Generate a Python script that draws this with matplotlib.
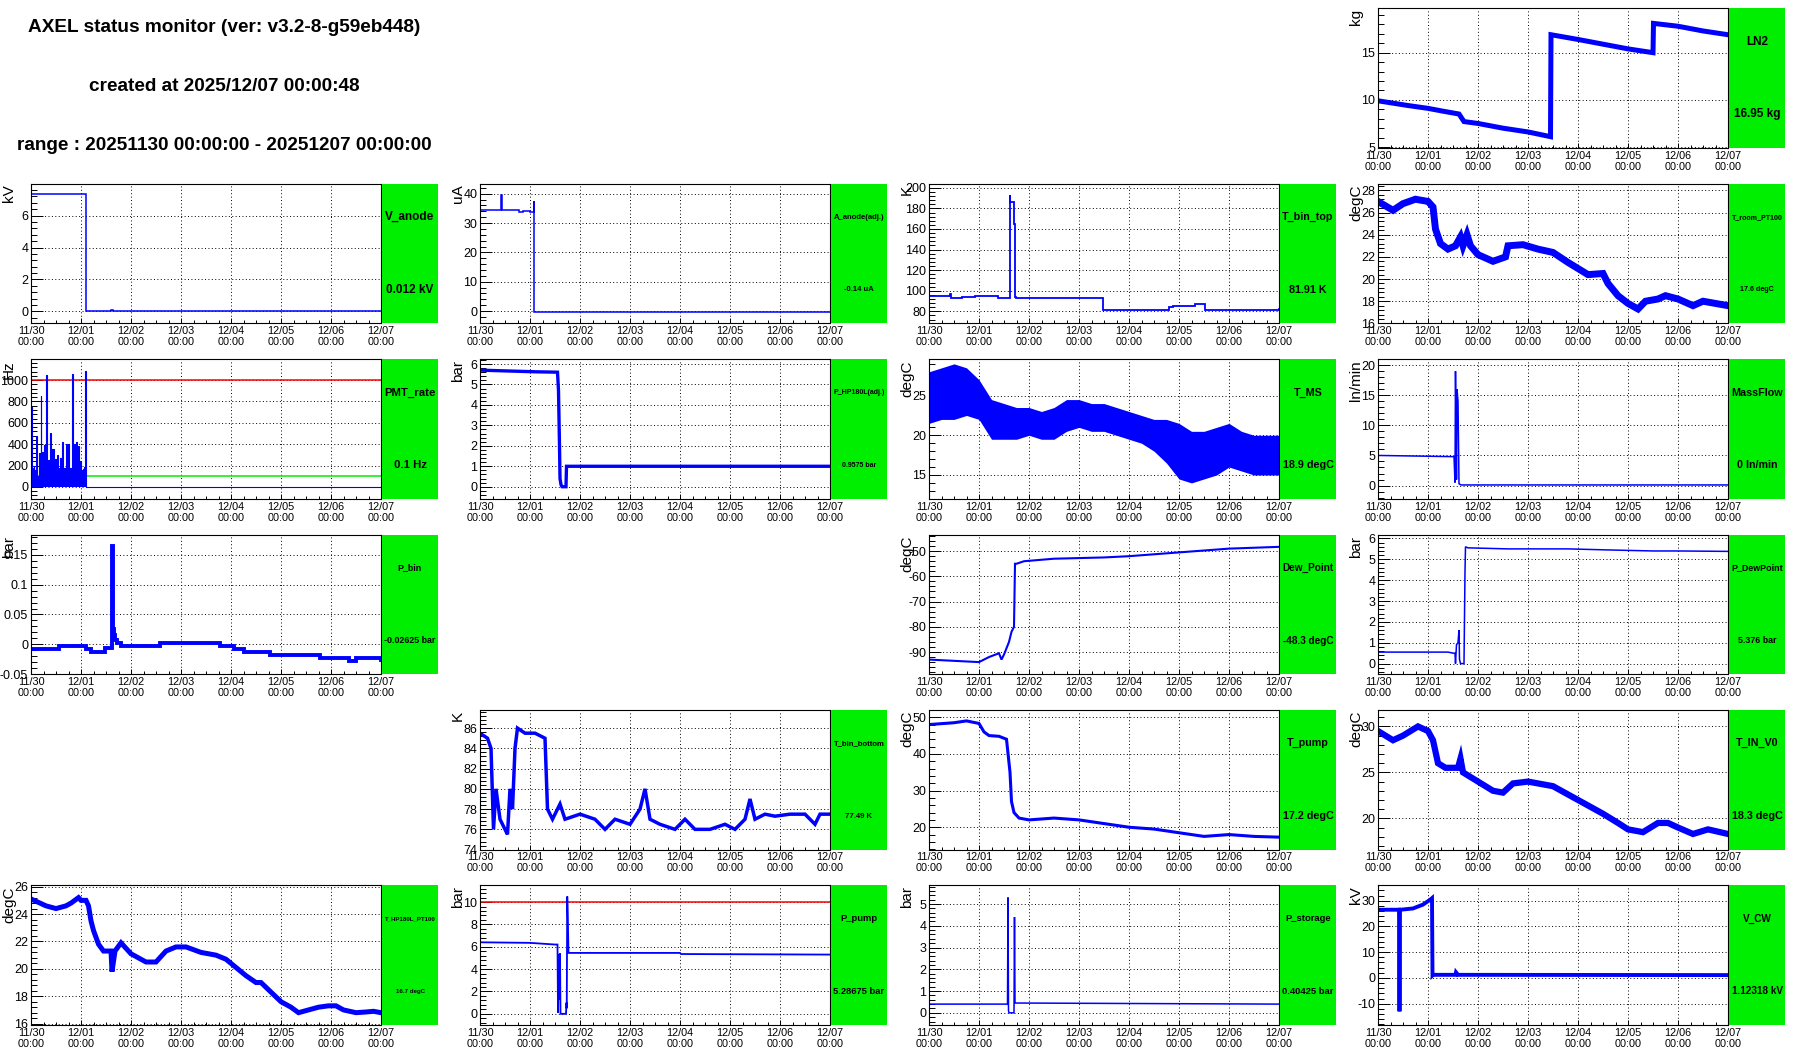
import numpy as np
import matplotlib
matplotlib.use("Agg")
import matplotlib.pyplot as plt
from matplotlib.ticker import MultipleLocator, AutoMinorLocator

plt.rcParams['font.family'] = ['Liberation Sans', 'DejaVu Sans']

W, H, DPI = 1796, 1052, 100

# time axis: days since 2025/11/30 00:00
day_ticks = [0, 1, 2, 3, 4, 5, 6, 7]
day_labels = ['11/30\n00:00', '12/01\n00:00', '12/02\n00:00', '12/03\n00:00',
              '12/04\n00:00', '12/05\n00:00', '12/06\n00:00', '12/07\n00:00']

title_lines = ['AXEL status monitor (ver: v3.2-8-g59eb448)',
               'created at 2025/12/07 00:00:48',
               'range : 20251130 00:00:00 - 20251207 00:00:00']

ln2_t = [0, 0.6, 1.0, 1.3, 1.62, 1.72, 2.0, 2.5, 3.0, 3.45, 3.46, 4.0, 4.5, 5.0, 5.5, 5.51, 6.0, 6.5, 7.0]
ln2_v = [9.9, 9.4, 9.1, 8.8, 8.5, 7.7, 7.5, 7.0, 6.6, 6.1, 16.9, 16.4, 15.9, 15.4, 15.0, 18.1, 17.8, 17.3, 16.9]

vanode_t = [0, 1.09, 1.60, 1.63, 7.0]
vanode_v = [7.35, 0.01, 0.07, 0.01, 0.01]

aanode_t = [0, 0.42, 0.43, 0.78, 0.86, 1.00, 1.07, 1.08, 7.0]
aanode_v = [34.3, 39.5, 34.3, 33.8, 34.0, 33.7, 37.5, -0.2, -0.2]

tbt_t = [0, 0.41, 0.43, 0.65, 0.91, 1.38, 1.61, 1.625, 1.69, 1.71, 1.73, 3.47, 4.80, 4.88, 5.31, 5.51, 7.0]
tbt_v = [95, 97, 92.5, 94, 95, 93, 193, 186, 165, 93.5, 93, 81, 84, 85.5, 87, 81, 81.9]

troom_t = [0, 0.3, 0.5, 0.75, 1.0, 1.1, 1.15, 1.25, 1.4, 1.55, 1.65, 1.7, 1.78, 1.85, 2.0, 2.3,
           2.55, 2.6, 2.9, 3.2, 3.5, 3.8, 4.2, 4.5, 4.6, 4.8, 5.0, 5.2, 5.35, 5.6, 5.75, 6.0, 6.3, 6.5, 7.0]
troom_v = [27.0, 26.2, 26.8, 27.2, 27.0, 26.5, 24.5, 23.2, 22.7, 23.0, 23.8, 23.0, 24.0, 23.0, 22.2, 21.6,
           22.0, 23.0, 23.1, 22.7, 22.4, 21.5, 20.4, 20.5, 19.6, 18.5, 17.8, 17.3, 18.0, 18.2, 18.5, 18.2, 17.6, 18.0, 17.6]

pmt_h = [0.0, 0.4, 0.8, 1.2, 1.6, 2.0, 2.6, 3.0, 3.6, 4.1, 4.6, 5.0, 5.5, 5.9, 6.3, 6.8, 7.3, 7.7,
         8.2, 8.7, 9.3, 9.8, 10.3, 10.8, 11.4, 11.9, 12.4, 12.9, 13.5, 13.9, 14.4, 15.0, 15.5, 16.0,
         16.6, 17.1, 17.6, 18.1, 18.6, 19.2, 19.7, 20.2, 20.7, 21.2, 21.8, 22.2, 22.7, 23.2, 23.7,
         24.2, 24.8, 25.3, 26.0, 26.3, 168.0]
pmt_v = [750, 180, 150, 200, 120, 150, 480, 100, 320, 200, 850, 180, 330, 220, 390, 240, 1050, 220,
         250, 200, 500, 190, 350, 220, 260, 180, 300, 170, 180, 270, 160, 420, 180, 180,
         400, 150, 400, 150, 180, 110, 1060, 200, 400, 120, 420, 160, 380, 220, 240,
         160, 170, 190, 1090, 0.1, 0.1]

php_t = [0, 1.1, 1.55, 1.57, 1.59, 1.6, 1.62, 1.64, 1.72, 1.73, 7.0]
php_v = [5.7, 5.62, 5.6, 4.7, 2.0, 0.4, 0.1, 0.0, 0.0, 1.0, 1.0]

tms_t = [0, 0.25, 0.5, 0.75, 1.0, 1.1, 1.25, 1.5, 1.75, 2.0, 2.25, 2.5, 2.75, 3.0, 3.25, 3.5,
         3.75, 4.0, 4.25, 4.5, 4.75, 5.0, 5.25, 5.5, 5.75, 6.0, 6.25, 6.5, 6.75, 7.0]
tms_lo = [21.5, 22, 22, 22.5, 22, 21, 19.5, 19.5, 19.5, 20, 19.5, 19.5, 20.5, 21, 20.5, 20.5,
          20, 19.5, 19, 18, 16.5, 14.5, 14, 14.5, 15, 16, 15.5, 15, 15, 15]
tms_hi = [28, 28.5, 29, 28.5, 27, 26, 24.5, 24, 23.5, 23.5, 23, 23.5, 24.5, 24.5, 24, 24,
          23.5, 23, 22.5, 22, 22, 21.5, 20.5, 20.5, 21, 21.5, 20.5, 20, 20, 20]

mf_t = [0, 1.52, 1.54, 1.55, 1.57, 1.58, 1.6, 1.62, 1.64, 1.66, 7.0]
mf_v = [5, 4.8, 0.5, 19, 1, 16, 14, 0.3, 0.2, 0.1, 0.1]

pbin_t = [0, 0.55, 1.1, 1.2, 1.48, 1.62, 1.63, 1.645, 1.66, 1.68, 1.72, 1.8, 2.57, 3.78, 4.05,
          4.25, 4.78, 5.78, 6.35, 6.5, 7.0]
pbin_v = [-0.007, -0.002, -0.007, -0.012, -0.006, 0.165, 0.08, 0.025, 0.015, 0.008, 0.003, -0.002,
          0.003, -0.002, -0.008, -0.012, -0.018, -0.023, -0.028, -0.023, -0.026]

dew_t = [0, 0.5, 1.0, 1.2, 1.4, 1.45, 1.5, 1.6, 1.65, 1.7, 1.72, 1.75, 1.9, 2.5, 3.5, 4.0, 5.0, 6.0, 7.0]
dew_v = [-93, -93.5, -94, -92, -90.5, -93, -91, -86, -82, -80, -55, -55, -54, -53, -52.5, -52, -50.5, -49, -48.3]

pdp_t = [0, 1.4, 1.5, 1.54, 1.55, 1.57, 1.6, 1.62, 1.63, 1.65, 1.72, 1.74, 1.75, 1.8, 2.6, 3.8,
         4.6, 5.5, 6.0, 7.0]
pdp_v = [0.55, 0.55, 0.5, 0.5, 0.0, 0.9, 1.0, 1.6, 0.2, 0.0, 0.0, 4.4, 5.6, 5.55, 5.5, 5.5,
         5.45, 5.4, 5.4, 5.38]

tbb_t = [0, 0.15, 0.22, 0.27, 0.32, 0.4, 0.5, 0.55, 0.6, 0.65, 0.7, 0.75, 0.9, 1.1, 1.3, 1.35,
         1.45, 1.6, 1.7, 2.0, 2.3, 2.5, 2.7, 3.0, 3.2, 3.3, 3.4, 3.6, 3.9, 4.1, 4.3, 4.6, 4.9,
         5.1, 5.3, 5.4, 5.5, 5.7, 5.9, 6.2, 6.5, 6.7, 6.8, 7.0]
tbb_v = [85.5, 85, 84, 76, 80, 77, 76, 75.5, 80, 78, 84, 86, 85.5, 85.5, 85, 78,
         77, 78.5, 77, 77.5, 77, 76, 77, 76.5, 78, 80, 77, 76.5, 76, 77, 76, 76, 76.5,
         76, 77, 79, 77, 77.5, 77.3, 77.5, 77.5, 76.5, 77.5, 77.5]

tpump_t = [0, 0.5, 0.75, 1.0, 1.1, 1.2, 1.4, 1.55, 1.62, 1.65, 1.7, 1.8, 2.0, 2.5, 3.0, 3.5,
           4.0, 4.5, 5.0, 5.5, 6.0, 6.5, 7.0]
tpump_v = [48, 48.5, 49, 48.3, 46, 45, 44.8, 44, 35, 27, 24, 22.5, 22, 22.5, 22, 21,
           20, 19.5, 18.5, 17.5, 18, 17.5, 17.3]

tinv0_t = [0, 0.3, 0.5, 0.8, 1.0, 1.1, 1.2, 1.35, 1.6, 1.65, 1.7, 2.0, 2.3, 2.5, 2.7, 3.0,
           3.5, 4.0, 4.5, 4.8, 5.0, 5.3, 5.6, 5.8, 6.0, 6.3, 6.6, 7.0]
tinv0_v = [29.5, 28.5, 29, 30, 29.5, 28.5, 26, 25.5, 25.5, 26.5, 25, 24, 23, 22.8, 23.8, 24,
           23.5, 22, 20.5, 19.5, 18.8, 18.5, 19.5, 19.5, 19, 18.3, 18.8, 18.3]

thp_t = [0, 0.3, 0.5, 0.7, 0.8, 0.95, 1.0, 1.1, 1.15, 1.2, 1.25, 1.35, 1.45, 1.6, 1.62, 1.68,
         1.8, 2.0, 2.3, 2.5, 2.7, 2.9, 3.1, 3.4, 3.7, 3.9, 4.1, 4.3, 4.5, 4.6, 4.8, 5.0, 5.2,
         5.35, 5.45, 5.55, 5.75, 5.95, 6.1, 6.25, 6.5, 6.7, 6.85, 7.0]
thp_v = [25.1, 24.6, 24.4, 24.6, 24.8, 25.2, 25.0, 25.0, 24.6, 23.5, 22.8, 21.8, 21.3, 21.3, 19.8, 21.3,
         21.9, 21.1, 20.5, 20.5, 21.3, 21.6, 21.6, 21.2, 21.0, 20.7, 20.1, 19.5, 19.0, 19.0, 18.3, 17.6, 17.2,
         16.8, 16.9, 17.0, 17.2, 17.3, 17.3, 17.0, 16.8, 16.85, 16.9, 16.8]

ppump_t = [0, 1.0, 1.5, 1.55, 1.56, 1.57, 1.58, 1.59, 1.6, 1.61, 1.62, 1.64, 1.72, 1.73, 1.735,
           1.745, 1.755, 1.77, 4.0, 4.02, 7.0]
ppump_v = [6.4, 6.35, 6.2, 6.2, 0.1, 3.5, 5.3, 1.3, 5.4, 0.0, 0.0, 0.0, 0.0, 1.0, 0.5,
           10.5, 8.8, 5.45, 5.45, 5.35, 5.3]

pst_t = [0, 1.57, 1.58, 1.59, 1.6, 1.7, 1.71, 1.72, 1.73, 7.0]
pst_v = [0.4, 0.4, 5.3, 0.1, 0.0, 0.0, 4.4, 0.45, 0.45, 0.4]

vcw_t = [0, 0.42, 0.43, 0.44, 0.45, 0.7, 0.9, 1.05, 1.08, 1.09, 1.1, 1.55, 1.56, 1.6, 7.0]
vcw_v = [26.5, 26.5, -13, 26.5, 26.5, 27, 28.5, 30.5, 31, 1.0, 1.2, 1.2, 2.2, 1.2, 1.1]

# ---- panel layout table (row, col in the 6x4 grid) ----
panels = [
    dict(row=0, col=3, name='LN2', unit='kg', value='16.95 kg', t=ln2_t, v=ln2_v, lw=3.6,
         ylim=(4.9, 19.7), yticks=[5, 10, 15]),
    dict(row=1, col=0, name='V_anode', unit='kV', value='0.012 kV', t=vanode_t, v=vanode_v, lw=1.1,
         step=True, ylim=(-0.75, 8.0), yticks=[0, 2, 4, 6]),
    dict(row=1, col=1, name='A_anode(adj.)', unit='uA', value='-0.14 uA', t=aanode_t, v=aanode_v, lw=1.1,
         step=True, ylim=(-4.2, 43.4), yticks=[0, 10, 20, 30, 40]),
    dict(row=1, col=2, name='T_bin_top', unit='K', value='81.91 K', t=tbt_t, v=tbt_v, lw=1.3,
         step=True, ylim=(68.3, 204), yticks=[80, 100, 120, 140, 160, 180, 200]),
    dict(row=1, col=3, name='T_room_PT100', unit='degC', value='17.6 degC', t=troom_t, v=troom_v, lw=5.0,
         ylim=(16, 28.6), yticks=[16, 18, 20, 22, 24, 26, 28]),
    dict(row=2, col=0, name='PMT_rate', unit='Hz', value='0.1 Hz', t=pmt_h, v=pmt_v, kind='pmt',
         hlines=[(1000, '#ff0000'), (100, '#00ee00')], ylim=(-112, 1197),
         yticks=[0, 200, 400, 600, 800, 1000]),
    dict(row=2, col=1, name='P_HP180L(adj.)', unit='bar', value='0.9575 bar', t=php_t, v=php_v, lw=2.4,
         ylim=(-0.59, 6.24), yticks=[0, 1, 2, 3, 4, 5, 6]),
    dict(row=2, col=2, name='T_MS', unit='degC', value='18.9 degC', t=tms_t, v=(tms_lo, tms_hi), kind='band',
         ylim=(12.0, 29.6), yticks=[15, 20, 25]),
    dict(row=2, col=3, name='MassFlow', unit='ln/min', value='0 ln/min', t=mf_t, v=mf_v, lw=1.1,
         ylim=(-2.2, 21), yticks=[0, 5, 10, 15, 20]),
    dict(row=3, col=0, name='P_bin', unit='bar', value='-0.02625 bar', t=pbin_t, v=pbin_v, lw=2.8,
         step=True, ylim=(-0.05, 0.184), yticks=[-0.05, 0, 0.05, 0.1, 0.15]),
    dict(row=3, col=2, name='Dew_Point', unit='degC', value='-48.3 degC', t=dew_t, v=dew_v, lw=1.5,
         ylim=(-98.8, -43.4), yticks=[-90, -80, -70, -60, -50]),
    dict(row=3, col=3, name='P_DewPoint', unit='bar', value='5.376 bar', t=pdp_t, v=pdp_v, lw=1.1,
         ylim=(-0.51, 6.19), yticks=[0, 1, 2, 3, 4, 5, 6]),
    dict(row=4, col=1, name='T_bin_bottom', unit='K', value='77.49 K', t=tbb_t, v=tbb_v, lw=2.5,
         ylim=(74, 87.8), yticks=[74, 76, 78, 80, 82, 84, 86]),
    dict(row=4, col=2, name='T_pump', unit='degC', value='17.2 degC', t=tpump_t, v=tpump_v, lw=2.2,
         ylim=(13.9, 52), yticks=[20, 30, 40, 50]),
    dict(row=4, col=3, name='T_IN_V0', unit='degC', value='18.3 degC', t=tinv0_t, v=tinv0_v, lw=4.5,
         ylim=(16.6, 31.8), yticks=[20, 25, 30]),
    dict(row=5, col=0, name='T_HP180L_PT100', unit='degC', value='16.7 degC', t=thp_t, v=thp_v, lw=3.6,
         ylim=(15.9, 26.1), yticks=[16, 18, 20, 22, 24, 26]),
    dict(row=5, col=1, name='P_pump', unit='bar', value='5.28675 bar', t=ppump_t, v=ppump_v, lw=1.3,
         hlines=[(10, '#ff0000')], ylim=(-1, 11.5), yticks=[0, 2, 4, 6, 8, 10]),
    dict(row=5, col=2, name='P_storage', unit='bar', value='0.40425 bar', t=pst_t, v=pst_v, lw=1.1,
         ylim=(-0.56, 5.86), yticks=[0, 1, 2, 3, 4, 5]),
    dict(row=5, col=3, name='V_CW', unit='kV', value='1.12318 kV', t=vcw_t, v=vcw_v, lw=2.8,
         ylim=(-18.3, 36), yticks=[-10, 0, 10, 20, 30]),
]

# geometry in pixels
AX_X0, COL_W, AX_W, BOX_W = 31, 449, 350, 56
AX_Y0, ROW_H, AX_H = 8.3, 175.4, 139.7
PX = 0.72  # points per pixel

fig = plt.figure(figsize=(W / DPI, H / DPI), dpi=DPI)
renderer = fig.canvas.get_renderer()


def px_axes(left, top, width, height):
    return fig.add_axes([left / W, 1 - (top + height) / H, width / W, height / H])


for i, line in enumerate(title_lines):
    fig.text(224 / W, 1 - (28 + 58.5 * i) / H, line, ha='center', va='center',
             fontsize=13.7, fontweight='bold')

for p in panels:
    left = AX_X0 + COL_W * p['col']
    top = AX_Y0 + ROW_H * p['row']
    ax = px_axes(left, top, AX_W, AX_H)
    kind = p.get('kind', 'line')
    if kind == 'pmt':
        t = np.array(p['t']) / 24.0
        v = np.array(p['v'])
        ax.fill_between(t, 0, v, step='post', color='#0000ff', lw=0, zorder=2)
        ax.plot(t, v, color='#0000ff', lw=0.8, drawstyle='steps-post', zorder=2)
    elif kind == 'band':
        lo, hi = p['v']
        ax.fill_between(p['t'], lo, hi, color='#0000ff', lw=0)
    else:
        ax.plot(p['t'], p['v'], color='#0000ff', lw=p['lw'],
                drawstyle='steps-post' if p.get('step') else 'default',
                solid_joinstyle='miter')
    for yv, c in p.get('hlines', []):
        ax.axhline(yv, color=c, lw=1.1, zorder=1.5)

    ax.set_xlim(0, 7)
    ax.set_ylim(*p['ylim'])
    ax.set_xticks(day_ticks)
    ax.set_xticklabels(day_labels, linespacing=1.12)
    ax.xaxis.set_minor_locator(MultipleLocator(0.25))
    ax.set_yticks(p['yticks'])
    ax.set_yticklabels([f'{y:g}' for y in p['yticks']])
    ax.yaxis.set_minor_locator(AutoMinorLocator(5))
    ax.tick_params(axis='x', which='major', direction='in', length=5.3 * PX, width=0.7,
                   labelsize=7.8, pad=2)
    ax.tick_params(axis='x', which='minor', direction='in', length=2.7 * PX, width=0.7)
    ax.tick_params(axis='y', which='major', direction='in', length=12 * PX, width=0.7,
                   labelsize=9, pad=2)
    ax.tick_params(axis='y', which='minor', direction='in', length=6 * PX, width=0.7)
    ax.set_axisbelow(True)
    ax.grid(True, which='major', color='black', linestyle=(0, (1, 2.5)), lw=0.7)
    for s in ax.spines.values():
        s.set_linewidth(0.8)

    fig.text((left - 22) / W, 1 - (top + 1) / H, p['unit'], rotation=90,
             ha='center', va='top', fontsize=11)

    # green status box
    box = px_axes(left + AX_W + 1, top, BOX_W, AX_H)
    box.set_facecolor('#00ee00')
    box.set_xticks([])
    box.set_yticks([])
    for s in box.spines.values():
        s.set_visible(False)
    size = 8.5
    t1 = box.text(0.5, 0.76, p['name'], ha='center', va='center', fontsize=size,
                  fontweight='bold', transform=box.transAxes)
    t2 = box.text(0.5, 0.24, p['value'], ha='center', va='center', fontsize=size,
                  fontweight='bold', transform=box.transAxes)
    wmax = max(t1.get_window_extent(renderer).width, t2.get_window_extent(renderer).width)
    if wmax > 51:
        t1.set_fontsize(size * 51 / wmax)
        t2.set_fontsize(size * 51 / wmax)

fig.savefig('out.png', dpi=DPI, facecolor='white')
